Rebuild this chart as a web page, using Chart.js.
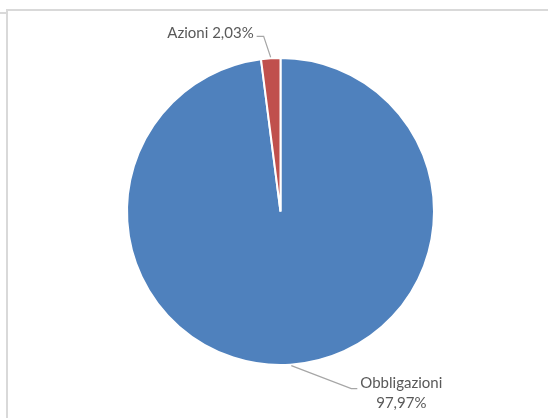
<!DOCTYPE html>
<html>
<head>
<meta charset="utf-8">
<script src="https://cdn.jsdelivr.net/npm/chart.js@4"></script>
<style>
  html, body { margin: 0; padding: 0; background: #fff; }
  #wrap { position: relative; width: 548px; height: 418px; overflow: hidden; }
  #frame { position: absolute; left: 6px; top: 9px; width: 560px; height: 420px;
           border-left: 2px solid #d9d9d9; border-top: 2px solid #d9d9d9; }
  #stub { position: absolute; left: 0; top: 12px; width: 6px; border-top: 2px solid #d9d9d9; }
  canvas { position: absolute; left: 0; top: 0; }
</style>
</head>
<body>
<div id="wrap">
  <div id="frame"></div>
  <div id="stub"></div>
  <canvas id="chart1" width="548" height="418"></canvas>
</div>
<script>
const categories = ["Obbligazioni", "Azioni"];
const values = [97.97, 2.03];
const colors = ["#4f81bd", "#c0504d"];

const canvas = document.getElementById("chart1");

function fmt(v) {
  return v.toFixed(2).replace(".", ",") + "%";
}

// etichette con linee di richiamo, ancorate al centro dell'arco
const leaderLabels = {
  id: "leaderLabels",
  afterDatasetsDraw(chart) {
    const ctx = chart.ctx;
    const arcs = chart.getDatasetMeta(0).data;
    ctx.save();
    ctx.font = "15px Lato, 'Open Sans', sans-serif";
    ctx.fillStyle = "#595959";
    ctx.strokeStyle = "#a6a6a6";
    ctx.lineWidth = 1.2;

    arcs.forEach((arc, i) => {
      const p = arc.getProps(["x", "y", "startAngle", "endAngle", "outerRadius"], true);
      const mid = (p.startAngle + p.endAngle) / 2;
      const ax = p.x + Math.cos(mid) * (p.outerRadius + 1);
      const ay = p.y + Math.sin(mid) * (p.outerRadius + 1);

      if (i === 1) {
        // Azioni: in alto a sinistra
        const ex = ax - 7, ey = ay - 21;
        ctx.beginPath();
        ctx.moveTo(ax, ay);
        ctx.lineTo(ex, ey);
        ctx.lineTo(ex - 7, ey);
        ctx.stroke();
        ctx.textAlign = "right";
        ctx.textBaseline = "middle";
        ctx.fillText(categories[i] + " " + fmt(values[i]), ex - 10, ey - 3);
      } else {
        // Obbligazioni: in basso a destra, su due righe
        const a = Math.PI / 2 - 0.07;
        const bx = p.x + Math.cos(a) * (p.outerRadius + 1);
        const by = p.y + Math.sin(a) * (p.outerRadius + 1);
        const ex = bx + 60, ey = by + 23;
        ctx.beginPath();
        ctx.moveTo(bx, by);
        ctx.lineTo(ex, ey);
        ctx.lineTo(ex + 6, ey);
        ctx.stroke();
        ctx.textAlign = "center";
        ctx.textBaseline = "middle";
        ctx.fillText(categories[i], ex + 50, ey - 5);
        ctx.fillText(fmt(values[i]), ex + 50, ey + 15);
      }
    });
    ctx.restore();
  }
};

new Chart(canvas, {
  type: "pie",
  data: {
    labels: categories,
    datasets: [
      {
        data: values,
        backgroundColor: colors,
        borderColor: "#ffffff",
        borderWidth: 2,
      },
    ],
  },
  options: {
    responsive: false,
    animation: false,
    layout: {
      padding: { top: 57, bottom: 52, left: 126, right: 113 },
    },
    plugins: {
      legend: { display: false },
      tooltip: { enabled: false },
    },
  },
  plugins: [leaderLabels],
});
</script>
</body>
</html>
